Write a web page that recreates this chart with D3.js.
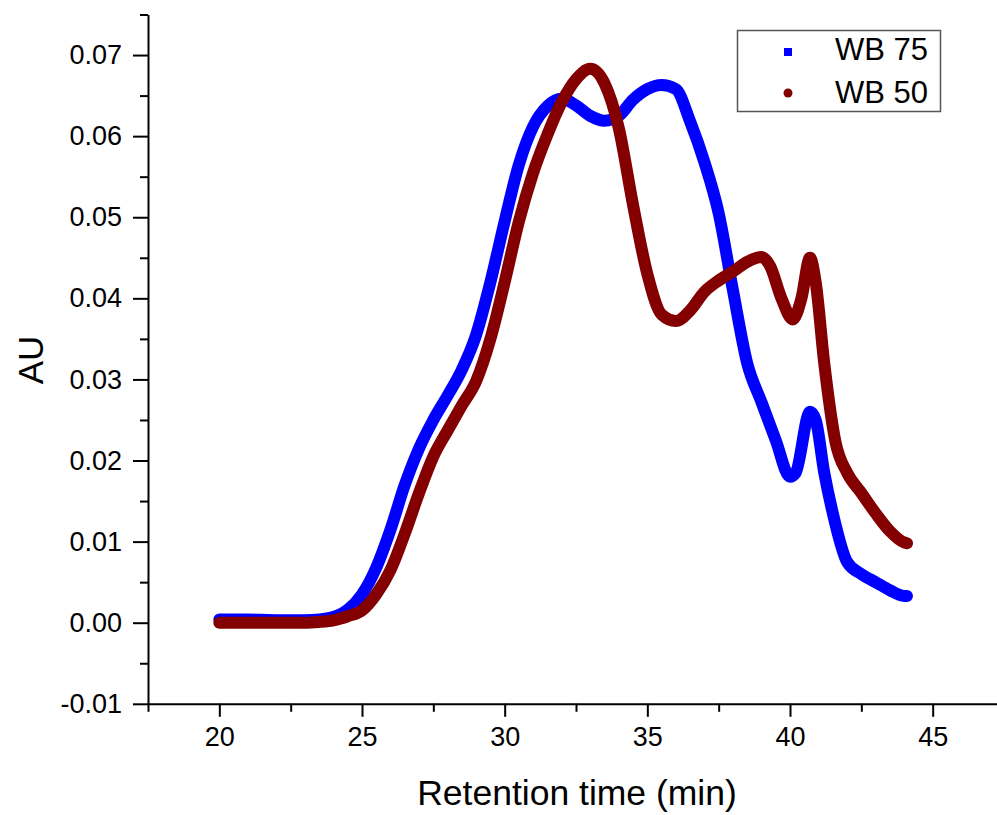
<!DOCTYPE html>
<html>
<head>
<meta charset="utf-8">
<script src="https://cdnjs.cloudflare.com/ajax/libs/d3/7.8.5/d3.min.js"></script>
<style>
  body { margin: 0; background: #fff; }
  svg { display: block; font-family: Arial, "Liberation Sans", sans-serif; }
</style>
</head>
<body>
<svg id="chart" width="997" height="815"></svg>
<script>
// WB 75 (blue)
var timeWB75 = [20, 21, 22, 23, 23.5, 24, 24.5, 25, 25.5, 26, 26.5, 27, 27.5, 28, 28.5, 29, 29.5, 30,
    30.5, 31, 31.5, 32, 32.5, 33, 33.5, 34, 34.5, 35, 35.5, 36, 36.5, 37, 37.5, 38, 38.5, 39, 39.5,
    40, 40.2, 40.7, 40.9, 41.2, 41.5, 42, 42.5, 43, 43.5, 44, 44.1];
var valWB75 = [0.0004, 0.0004, 0.0003, 0.0003, 0.0004, 0.0007, 0.0016, 0.0035, 0.0068, 0.0115, 0.0170,
    0.0215, 0.0250, 0.0280, 0.0312, 0.0355, 0.0420, 0.0495, 0.0565, 0.0612, 0.0637, 0.0646, 0.0638,
    0.0625, 0.0619, 0.0625, 0.0645, 0.0658, 0.0663, 0.0658, 0.0618, 0.0568, 0.0505, 0.0410, 0.0320,
    0.0272, 0.0225, 0.0180, 0.0185, 0.0260, 0.0250, 0.0185, 0.0135, 0.0075, 0.0060, 0.0050, 0.0040,
    0.0033, 0.0033];

// WB 50 (dark red)
var timeWB50 = [20, 21, 22, 23, 23.5, 24, 24.5, 25, 25.5, 26, 26.5, 27, 27.5, 28, 28.5, 29, 29.5, 30,
    30.5, 31, 31.5, 32, 32.5, 33, 33.5, 34, 34.5, 35, 35.5, 36, 36.5, 37, 37.5, 38, 38.5, 39, 39.3,
    39.7, 40.1, 40.4, 40.7, 40.9, 41.2, 41.6, 42, 42.5, 43, 43.5, 44, 44.1];
var valWB50 = [0.0000, 0.0000, 0.0000, 0.0000, 0.0001, 0.0003, 0.0008, 0.0015, 0.0035, 0.0065, 0.0110,
    0.0160, 0.0205, 0.0237, 0.0268, 0.0298, 0.0350, 0.0420, 0.0495, 0.0555, 0.0602, 0.0642, 0.0670,
    0.0683, 0.0665, 0.0610, 0.0515, 0.0430, 0.0380, 0.0372, 0.0385, 0.0408, 0.0422, 0.0433, 0.0445,
    0.0451, 0.0440, 0.0400, 0.0374, 0.0400, 0.0450, 0.0420, 0.0320, 0.0222, 0.0185, 0.0160, 0.0135,
    0.0113, 0.0099, 0.0098];

var xTicks = [20, 25, 30, 35, 40, 45];
var yTicks = [-0.01, 0.00, 0.01, 0.02, 0.03, 0.04, 0.05, 0.06, 0.07];
var seriesNames = ["WB 75", "WB 50"];
var seriesColors = ["#0000ff", "#840000"];

var svg = d3.select("#chart");
var leftX = 148, topY = 14.5, axisY = 703.8;

var x = d3.scaleLinear().domain([17.5, 47.5]).range([leftX, 1004]);
var y = d3.scaleLinear().domain([-0.01, 0.075]).range([axisY, topY]);

var line = d3.line()
    .x(function(d) { return x(d[0]); })
    .y(function(d) { return y(d[1]); })
    .curve(d3.curveMonotoneX);

var series = [
    d3.zip(timeWB75, valWB75),
    d3.zip(timeWB50, valWB50)
];

svg.append("g")
    .selectAll("path")
    .data(series)
    .enter().append("path")
    .attr("d", line)
    .attr("fill", "none")
    .attr("stroke", function(d, i) { return seriesColors[i]; })
    .attr("stroke-width", 12)
    .attr("stroke-linecap", "round")
    .attr("stroke-linejoin", "round");

// minor ticks
var yMinor = d3.range(-0.005, 0.0751, 0.01);
var xMinor = d3.range(17.5, 47.6, 5);

// plain hyphen for negatives, like the original
var fmtY = d3.formatLocale({decimal: ".", thousands: ",", grouping: [3], currency: ["", ""], minus: "-"}).format(".2f");

svg.append("g")
    .attr("transform", "translate(" + leftX + ",0)")
    .call(d3.axisLeft(y).tickValues(yTicks).tickFormat(fmtY).tickSize(15).tickPadding(11).tickSizeOuter(0));

svg.append("g")
    .attr("transform", "translate(" + leftX + ",0)")
    .call(d3.axisLeft(y).tickValues(yMinor).tickFormat("").tickSize(8).tickSizeOuter(0))
    .select(".domain").remove();

svg.append("g")
    .attr("transform", "translate(0," + axisY + ")")
    .call(d3.axisBottom(x).tickValues(xTicks).tickSize(13).tickPadding(10).tickSizeOuter(0));

svg.append("g")
    .attr("transform", "translate(0," + axisY + ")")
    .call(d3.axisBottom(x).tickValues(xMinor).tickFormat("").tickSize(8).tickSizeOuter(0))
    .select(".domain").remove();

svg.selectAll(".domain, .tick line")
    .attr("stroke", "#000")
    .attr("stroke-width", 2);

svg.selectAll(".tick text")
    .attr("fill", "#000")
    .style("font-size", "27px")
    .style("font-family", "Arial, 'Liberation Sans', sans-serif");

// axis titles
svg.append("text")
    .attr("x", 577)
    .attr("y", 805)
    .attr("text-anchor", "middle")
    .style("font-size", "35.5px")
    .text("Retention time (min)");

svg.append("text")
    .attr("transform", "translate(43,360) rotate(-90)")
    .attr("text-anchor", "middle")
    .style("font-size", "35px")
    .text("AU");

// legend
var legend = svg.append("g");
legend.append("rect")
    .attr("x", 737.5)
    .attr("y", 30.5)
    .attr("width", 203)
    .attr("height", 81)
    .attr("fill", "#fff")
    .attr("stroke", "#555")
    .attr("stroke-width", 1.5);

legend.append("rect")
    .attr("x", 784)
    .attr("y", 48)
    .attr("width", 8)
    .attr("height", 8)
    .attr("fill", seriesColors[0]);

legend.append("circle")
    .attr("cx", 788)
    .attr("cy", 93)
    .attr("r", 4.5)
    .attr("fill", seriesColors[1]);

legend.selectAll("text.lab")
    .data(seriesNames)
    .enter().append("text")
    .attr("class", "lab")
    .attr("x", 835)
    .attr("y", function(d, i) { return 60 + i * 43; })
    .style("font-size", "31px")
    .text(function(d) { return d; });
</script>
</body>
</html>
